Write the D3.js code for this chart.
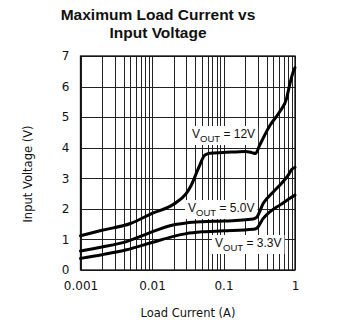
<!DOCTYPE html>
<html>
<head>
<meta charset="utf-8">
<script src="https://cdn.jsdelivr.net/npm/d3@7"></script>
<style>
  html, body { margin: 0; padding: 0; background: #fff; }
  svg { display: block; }
  text { font-family: "Liberation Sans", Arial, sans-serif; fill: #111; }
</style>
</head>
<body>
<svg id="chart" width="338" height="324"></svg>
<script>
// Load current (A) and input voltage (V) for each output voltage
const current12 = [0.001, 0.002, 0.005, 0.01, 0.02, 0.03, 0.035, 0.045, 0.055, 0.065, 0.1, 0.2, 0.25, 0.28, 0.32, 0.45, 0.62, 0.76, 0.85, 0.95, 1.0];
const volts12   = [1.12, 1.3, 1.52, 1.85, 2.15, 2.5, 2.75, 3.35, 3.76, 3.82, 3.84, 3.88, 3.84, 3.81, 4.08, 4.74, 5.2, 5.6, 6.1, 6.5, 6.62];

const current50 = [0.001, 0.002, 0.0044, 0.0094, 0.0178, 0.03, 0.05, 0.1, 0.26, 0.29, 0.36, 0.5, 0.65, 0.81, 0.9, 1.0];
const volts50   = [0.62, 0.75, 0.93, 1.22, 1.45, 1.54, 1.58, 1.6, 1.67, 1.72, 2.18, 2.56, 2.84, 3.11, 3.29, 3.36];

const current33 = [0.001, 0.002, 0.0044, 0.01, 0.02, 0.03, 0.05, 0.1, 0.26, 0.29, 0.36, 0.45, 0.62, 0.85, 1.0];
const volts33   = [0.38, 0.5, 0.66, 0.9, 1.1, 1.19, 1.25, 1.28, 1.33, 1.36, 1.69, 1.91, 2.13, 2.35, 2.45];

const xTickValues = [0.001, 0.01, 0.1, 1];
const xTickLabels = ["0.001", "0.01", "0.1", "1"];
const yTickValues = [0, 1, 2, 3, 4, 5, 6, 7];

const seriesLabels = ["12V", "5.0V", "3.3V"];

const svg = d3.select("#chart");

const x = d3.scaleLog().domain([0.001, 1]).range([80.5, 295]);
const y = d3.scaleLinear().domain([0, 7]).range([270, 56]);

// Title
svg.append("text")
  .attr("x", 158).attr("y", 20)
  .attr("text-anchor", "middle")
  .style("font-weight", "bold").style("font-size", "15.5px")
  .text("Maximum Load Current vs");
svg.append("text")
  .attr("x", 158).attr("y", 38)
  .attr("text-anchor", "middle")
  .style("font-weight", "bold").style("font-size", "15.5px")
  .text("Input Voltage");

// Grid
const grid = svg.append("g").attr("stroke", "#222").attr("stroke-width", 1).attr("shape-rendering", "crispEdges");
grid.selectAll("line.v").data(x.ticks()).join("line")
  .attr("class", "v")
  .attr("x1", d => Math.round(x(d)) + 0.5).attr("x2", d => Math.round(x(d)) + 0.5)
  .attr("y1", y(7)).attr("y2", y(0));
grid.selectAll("line.h").data(yTickValues).join("line")
  .attr("class", "h")
  .attr("x1", x(0.001)).attr("x2", x(1))
  .attr("y1", d => Math.round(y(d)) + 0.5).attr("y2", d => Math.round(y(d)) + 0.5);

// Frame
svg.append("rect")
  .attr("x", x(0.001)).attr("y", y(7))
  .attr("width", x(1) - x(0.001)).attr("height", y(0) - y(7))
  .attr("fill", "none").attr("stroke", "#111").attr("stroke-width", 1.3);

// Axes tick labels
const xAxis = d3.axisBottom(x).tickValues(xTickValues).tickSize(0)
  .tickFormat((d, i) => xTickLabels[i]);
const gx = svg.append("g").attr("transform", `translate(0,${y(0) + 8})`).call(xAxis);
gx.select(".domain").remove();
gx.selectAll("text").style("font-size", "12px").style("font-family", "\"DejaVu Sans\", sans-serif").attr("fill", "#111");

const yAxis = d3.axisLeft(y).tickValues(yTickValues).tickSize(0).tickFormat(d3.format("d"));
const gy = svg.append("g").attr("transform", `translate(${x(0.001) - 8},0)`).call(yAxis);
gy.select(".domain").remove();
gy.selectAll("text").style("font-size", "12px").style("font-family", "\"DejaVu Sans\", sans-serif").attr("fill", "#111");

// Axis titles
svg.append("text")
  .attr("transform", `translate(32,${(y(0) + y(7)) / 2 + 11}) rotate(-90)`)
  .attr("text-anchor", "middle")
  .style("font-size", "11.5px").style("font-family", "\"DejaVu Sans\", sans-serif")
  .text("Input Voltage (V)");
svg.append("text")
  .attr("x", 188).attr("y", 317)
  .attr("text-anchor", "middle")
  .style("font-size", "11.5px").style("font-family", "\"DejaVu Sans\", sans-serif")
  .text("Load Current (A)");

// Series labels with white backing
function label(px, py, value) {
  const g = svg.append("g");
  const t = g.append("text").attr("x", px).attr("y", py).style("font-size", "12px");
  t.append("tspan").text("V");
  t.append("tspan").attr("dy", 4).style("font-size", "9.5px").text("OUT");
  t.append("tspan").attr("dy", -4).text(" = " + value);
  const b = t.node().getBBox();
  g.insert("rect", "text")
    .attr("x", b.x - 3).attr("y", b.y - 1)
    .attr("width", b.width + 6).attr("height", b.height + 2)
    .attr("fill", "#fff");
}
label(192, 138, seriesLabels[0]);
label(188, 212, seriesLabels[1]);
label(215, 247, seriesLabels[2]);

// Curves
const line = d3.line()
  .x(d => x(d[0])).y(d => y(d[1]))
  .curve(d3.curveMonotoneX);
const series = [
  d3.zip(current12, volts12),
  d3.zip(current50, volts50),
  d3.zip(current33, volts33)
];
svg.append("g").selectAll("path").data(series).join("path")
  .attr("d", line)
  .attr("fill", "none").attr("stroke", "#000").attr("stroke-width", 3)
  .attr("stroke-linejoin", "round").attr("stroke-linecap", "round");
</script>
</body>
</html>
